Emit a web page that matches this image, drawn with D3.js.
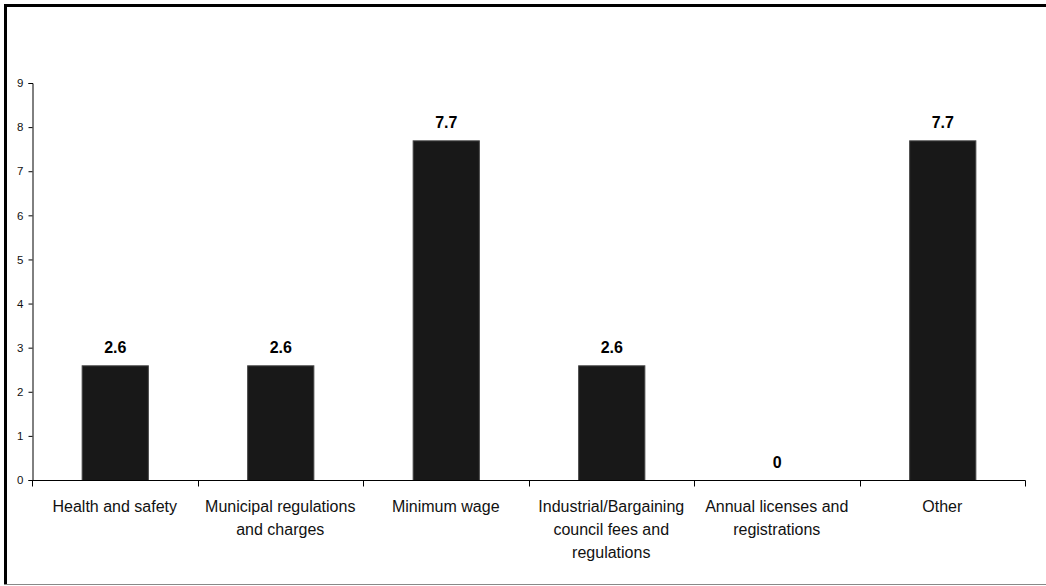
<!DOCTYPE html>
<html>
<head>
<meta charset="utf-8">
<script src="https://cdn.jsdelivr.net/npm/d3@7/dist/d3.min.js"></script>
<style>
  html, body { margin: 0; padding: 0; background: #fff; }
  svg { display: block; font-family: "Liberation Sans", Arial, sans-serif; }
</style>
</head>
<body>
<svg id="chart" width="1046" height="586"></svg>
<script>
const categories = [
  "Health and safety",
  "Municipal regulations and charges",
  "Minimum wage",
  "Industrial/Bargaining council fees and regulations",
  "Annual licenses and registrations",
  "Other"
];
const values = [2.6, 2.6, 7.7, 2.6, 0, 7.7];
const valueLabels = ["2.6", "2.6", "7.7", "2.6", "0", "7.7"];
const yTicks = [0, 1, 2, 3, 4, 5, 6, 7, 8, 9];

(function () {
const svg = d3.select("#chart");
const W = 1046, H = 586;
const pLeft = 32, pRight = 1025, pTop = 83, pBottom = 480;

// frame
svg.append("line").attr("x1", 4).attr("x2", W).attr("y1", 5.5).attr("y2", 5.5)
  .attr("stroke", "#000").attr("stroke-width", 3);
svg.append("line").attr("x1", 5.5).attr("x2", 5.5).attr("y1", 4).attr("y2", 585)
  .attr("stroke", "#000").attr("stroke-width", 3);
svg.append("line").attr("x1", 4).attr("x2", W).attr("y1", 584.5).attr("y2", 584.5)
  .attr("stroke", "#888").attr("stroke-width", 1);

const y = d3.scaleLinear().domain([0, 9]).range([pBottom, pTop]);
const xCat = d3.scaleBand().domain(categories).range([pLeft, pRight]).padding(0);
const xBar = d3.scaleBand().domain(categories).range([pLeft, pRight])
  .paddingInner(0.6).paddingOuter(0.3);

// y axis
const yAxis = svg.append("g").attr("transform", `translate(${pLeft + 0.5},0)`)
  .call(d3.axisLeft(y).tickValues(yTicks).tickSize(4).tickPadding(5).tickFormat(d3.format("d")));
yAxis.select(".domain").attr("stroke", "#000");
yAxis.selectAll(".tick line").attr("stroke", "#000");
yAxis.selectAll(".tick text").attr("font-size", 11.5).attr("fill", "#111")
  .attr("font-family", "Liberation Sans, Arial, sans-serif");

// bars
svg.selectAll("rect.bar").data(categories).join("rect")
  .attr("class", "bar")
  .attr("x", d => xBar(d) + 0.5)
  .attr("width", xBar.bandwidth())
  .attr("y", (d, i) => y(values[i]) + 0.5)
  .attr("height", (d, i) => pBottom - y(values[i]))
  .attr("fill", "#181818")
  .attr("stroke", "#444").attr("stroke-width", 1);

// x axis
const xAxisG = svg.append("g").attr("transform", `translate(0,${pBottom + 0.5})`);
xAxisG.append("line").attr("x1", pLeft).attr("x2", pRight + 0.5).attr("y1", 0).attr("y2", 0)
  .attr("stroke", "#000");
const bounds = categories.map(c => xCat(c)).concat([pRight]);
xAxisG.selectAll("line.tk").data(bounds).join("line").attr("class", "tk")
  .attr("x1", d => Math.round(d) + 0.5).attr("x2", d => Math.round(d) + 0.5)
  .attr("y1", 0).attr("y2", 6).attr("stroke", "#000");

// category labels with wrapping
const labelG = svg.append("g");
categories.forEach((c) => {
  const cx = xCat(c) + xCat.bandwidth() / 2;
  const t = labelG.append("text")
    .attr("x", cx)
    .attr("y", 512)
    .attr("text-anchor", "middle")
    .attr("font-size", 16)
    .attr("fill", "#111");
  const words = c.split(" ");
  let lines = [], cur = [];
  const probe = t.append("tspan");
  words.forEach(w => {
    const trial = cur.concat([w]).join(" ");
    probe.text(trial);
    if (probe.node().getComputedTextLength() > 160 && cur.length) {
      lines.push(cur.join(" "));
      cur = [w];
    } else cur.push(w);
  });
  lines.push(cur.join(" "));
  probe.remove();
  lines.forEach((ln, k) => {
    t.append("tspan").attr("x", cx)
      .attr("dy", k === 0 ? 0 : 23).text(ln);
  });
});

// value labels
svg.selectAll("text.val").data(categories).join("text")
  .attr("class", "val")
  .attr("x", d => xBar(d) + xBar.bandwidth() / 2 + 0.5)
  .attr("y", (d, i) => y(values[i]) - 12)
  .attr("text-anchor", "middle")
  .attr("font-size", 16)
  .attr("font-weight", "bold")
  .attr("fill", "#000")
  .text((d, i) => valueLabels[i]);
})();
</script>
</body>
</html>
